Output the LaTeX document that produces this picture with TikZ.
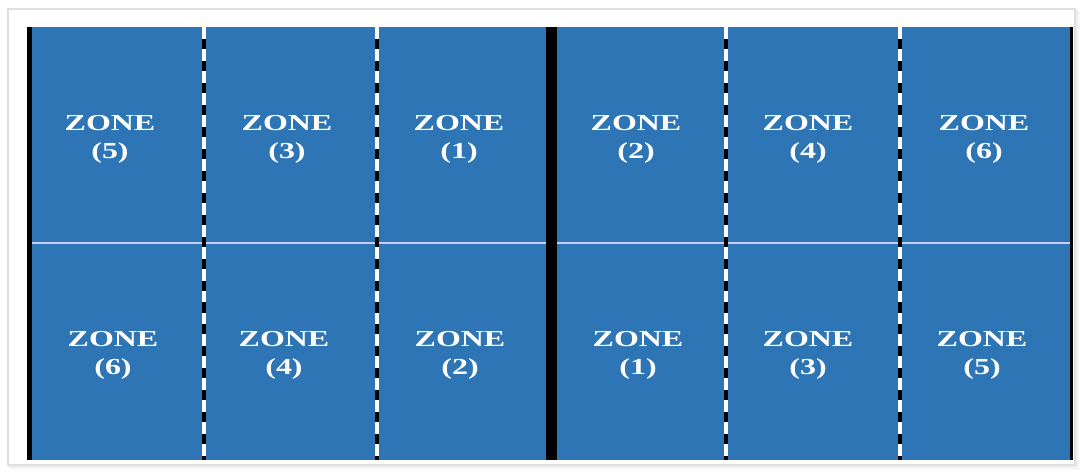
\documentclass[tikz,border=0pt]{standalone}
\usepackage{fontspec}
\setmainfont{Liberation Serif}
\definecolor{zoneblue}{RGB}{46,117,182}
\newcommand{\widezone}[1]{\scalebox{1.4}[1]{ZONE}\\\scalebox{1.4}[1]{(#1)}}
\tikzset{
  zonelabel/.style={text=white, align=center, font=\fontsize{13}{16}\selectfont\bfseries},
  dashsep/.style={line width=2pt, dash pattern=on 5.7pt off 6.8pt, dash phase=5.7pt},
}
\begin{document}
\begin{tikzpicture}[x=0.02cm,y=-0.02cm]
			% Page and frame
			\useasboundingbox (0,0) rectangle (1081,472);
			\fill[white] (0,0) rectangle (1081,472);
			\foreach \o/\c in {4/4,3/7,2/10,1/14} {
				\draw[gray!\c, line width=1pt] (8+\o,9+\o) rectangle (1075+\o,465+\o);
			}
			\fill[white] (8,9) rectangle (1075,465);
			\draw[gray!25, line width=0.6pt] (8,9) rectangle (1075,465);

			% Field
			\fill[zoneblue] (27,27) rectangle (1073,460);
			\draw[blue!20!white, line width=1.1pt] (32,243) -- (1070,243);

			% Dashed separators
			\foreach \x in {204,377,726,900} {
				\draw[white, line width=2pt] (\x,27) -- (\x,460);
				\draw[black, dashsep] (\x,27) -- (\x,460);
			}

			% Solid lines
			\draw[black, line width=2.8pt] (29.5,27) -- (29.5,460);
			\draw[black, line width=6.2pt] (551.5,27) -- (551.5,460);
			\draw[black, line width=1.7pt] (1071.5,27) -- (1071.5,460);

			% Zone labels
			\node[zonelabel] (t5) at (110,139) {\widezone{5}};
			\node[zonelabel] (t3) at (287,139) {\widezone{3}};
			\node[zonelabel] (t1) at (459,139) {\widezone{1}};
			\node[zonelabel] (t2) at (636,139) {\widezone{2}};
			\node[zonelabel] (t4) at (808,139) {\widezone{4}};
			\node[zonelabel] (t6) at (984,139) {\widezone{6}};
			\node[zonelabel] (b6) at (113,355) {\widezone{6}};
			\node[zonelabel] (b4) at (284,355) {\widezone{4}};
			\node[zonelabel] (b2) at (460,355) {\widezone{2}};
			\node[zonelabel] (b1) at (638,355) {\widezone{1}};
			\node[zonelabel] (b3) at (808,355) {\widezone{3}};
			\node[zonelabel] (b5) at (982,355) {\widezone{5}};
		\end{tikzpicture}
\end{document}
